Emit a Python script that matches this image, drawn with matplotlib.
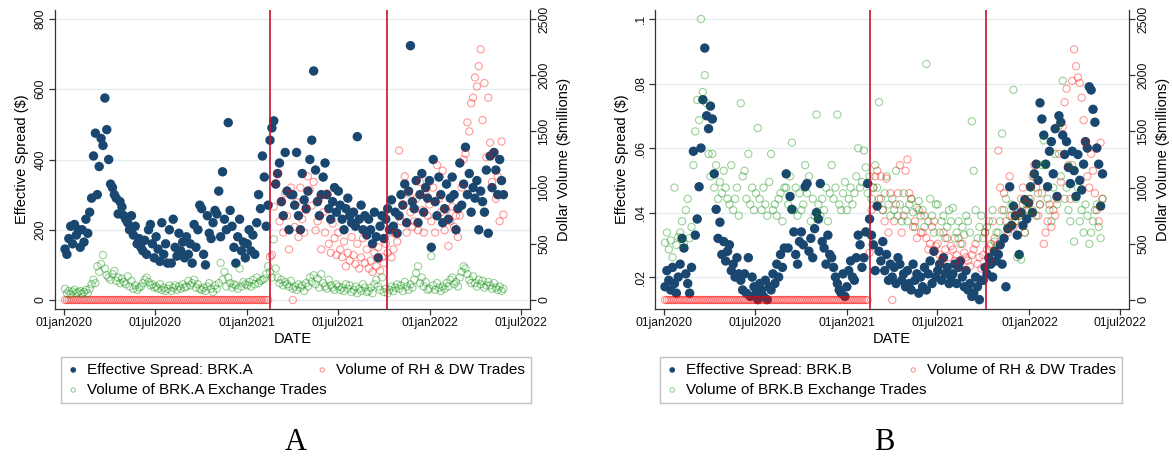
import matplotlib.pyplot as plt
import numpy as np
import pandas as pd

plt.rcParams['font.family'] = ['Liberation Sans', 'DejaVu Sans']

# observation window (values listed 8 per month, Jan 2020 - May 2022)
start, end = '2020-01-03', '2022-05-27'
event_dates = ['2021-02-16', '2021-10-06']
xtick_dates = ['2020-01-01', '2020-07-01', '2021-01-01', '2021-07-01', '2022-01-01', '2022-07-01']
xtick_labels = ['01jan2020', '01jul2020', '01jan2021', '01jul2021', '01jan2022', '01jul2022']

# ---- BRK.A ----
spread_a = [
    145, 130, 175, 210, 160, 215, 185, 200,
    150, 200, 165, 230, 190, 250, 290, 410,
    475, 300, 380, 460, 440, 575, 485, 400,
    330, 320, 300, 290, 245, 280, 265, 240,
    230, 220, 200, 240, 185, 210, 160, 175,
    150, 140, 170, 130, 200, 215, 160, 120,
    180, 145, 110, 220, 130, 160, 105, 200,
    105, 230, 150, 125, 190, 140, 165, 120,
    180, 130, 160, 105, 215, 150, 200, 270,
    260, 130, 100, 240, 190, 175, 220, 255,
    245, 310, 180, 365, 230, 200, 505, 255,
    210, 150, 105, 180, 230, 140, 165, 120,
    160, 200, 140, 185, 130, 220, 300, 260,
    410, 350, 210, 270, 455, 490, 510, 330,
    360, 390, 280, 240, 420, 310, 200, 300,
    300, 270, 420, 240, 200, 360, 285, 260,
    310, 400, 455, 652, 370, 280, 240, 300,
    350, 390, 300, 260, 230, 280, 320, 250,
    310, 270, 230, 200, 260, 290, 240, 220,
    250, 210, 465, 230, 270, 200, 240, 185,
    230, 200, 160, 250, 180, 120, 210, 240,
    175, 230, 260, 200, 285, 210, 250, 190,
    240, 300, 270, 330, 220, 310, 724, 280,
    260, 340, 220, 300, 360, 250, 320, 290,
    340, 150, 400, 280, 240, 350, 300, 220,
    260, 330, 230, 290, 350, 300, 200, 260,
    390, 270, 330, 435, 300, 360, 250, 320,
    290, 340, 200, 310, 280, 250, 370, 190,
    410, 320, 420, 370, 300, 400, 340, 300,
]
rh_a = [
    0, 0, 0, 0, 0, 0, 0, 0,  0, 0, 0, 0, 0, 0, 0, 0,
    0, 0, 0, 0, 0, 0, 0, 0,  0, 0, 0, 0, 0, 0, 0, 0,
    0, 0, 0, 0, 0, 0, 0, 0,  0, 0, 0, 0, 0, 0, 0, 0,
    0, 0, 0, 0, 0, 0, 0, 0,  0, 0, 0, 0, 0, 0, 0, 0,
    0, 0, 0, 0, 0, 0, 0, 0,  0, 0, 0, 0, 0, 0, 0, 0,
    0, 0, 0, 0, 0, 0, 0, 0,  0, 0, 0, 0, 0, 0, 0, 0,
    0, 0, 0, 0, 0, 0, 0, 0,
    0, 0, 0, 0, 385, 400, 830, 1040,
    1127, 700, 880, 600, 950, 750, 450, 1000,
    0, 650, 870, 560, 1000, 720, 600, 800,
    1100, 980, 840, 1050, 620, 700, 900, 450,
    780, 600, 950, 500, 420, 680, 550, 400,
    600, 450, 380, 520, 300, 420, 350, 560,
    400, 320, 500, 280, 380, 550, 330, 450,
    280, 350, 250, 420, 300, 470, 260, 380,
    330, 500, 420, 600, 380, 450, 590, 520,
    1330, 700, 850, 1100, 600, 950, 780, 650,
    700, 900, 620, 1050, 800, 600, 950, 750,
    850, 700, 1000, 600, 1200, 900, 780, 1150,
    620, 800, 480, 700, 830, 650, 750, 560,
    750, 1000, 1250, 1300, 1580, 1500, 1750, 1800,
    1980, 1900, 2080, 2230, 1600, 1930, 1270, 1800,
    1400, 1050, 1300, 900, 1100, 700, 1410, 760,
]
exch_a = [
    100, 60, 80, 50, 75, 90, 60, 70,
    80, 55, 70, 90, 60, 100, 140, 180,
    150, 300, 250, 320, 400, 280, 220, 200,
    180, 230, 260, 170, 200, 150, 190, 160,
    140, 210, 120, 170, 100, 130, 90, 110,
    120, 150, 180, 200, 160, 130, 140, 110,
    120, 100, 140, 90, 110, 80, 100, 130,
    80, 110, 130, 90, 120, 100, 140, 110,
    120, 170, 130, 150, 180, 110, 140, 100,
    90, 110, 80, 120, 150, 100, 70, 130,
    100, 150, 330, 180, 250, 120, 200, 150,
    110, 140, 130, 100, 280, 120, 160, 140,
    130, 160, 120, 180, 140, 200, 150, 170,
    180, 190, 230, 300, 250, 200, 540, 280,
    200, 150, 180, 130, 160, 140, 120, 170,
    100, 120, 90, 140, 110, 130, 80, 150,
    120, 200, 160, 220, 140, 190, 110, 230,
    150, 120, 100, 180, 130, 110, 90, 140,
    120, 90, 110, 80, 140, 100, 130, 70,
    90, 120, 60, 100, 80, 140, 110, 70,
    80, 110, 60, 140, 180, 120, 90, 200,
    70, 100, 60, 90, 120, 80, 110, 140,
    100, 130, 80, 160, 120, 90, 140, 110,
    180, 240, 300, 150, 200, 120, 160, 90,
    100, 390, 130, 90, 150, 110, 80, 120,
    100, 150, 120, 180, 200, 140, 160, 120,
    200, 250, 300, 280, 230, 180, 150, 210,
    150, 120, 180, 140, 170, 110, 130, 160,
    130, 100, 150, 110, 90, 120, 80, 100,
]

# ---- BRK.B ----
spread_b = [
    .017, .022, .019, .016, .023, .018, .015, .020,
    .024, .032, .029, .021, .018, .015, .023, .059,
    .033, .038, .048, .060, .075, .091, .070, .066,
    .073, .069, .052, .041, .032, .037, .027, .031,
    .025, .028, .030, .022, .024, .020, .026, .021,
    .019, .016, .021, .015, .026, .014, .020, .017,
    .015, .013, .018, .016, .014, .019, .013, .017,
    .016, .021, .018, .024, .020, .027, .023, .029,
    .052, .029, .045, .041, .034, .027, .024, .031,
    .034, .030, .048, .049, .028, .032, .026, .035,
    .040, .038, .049, .031, .029, .024, .033, .027,
    .026, .023, .020, .018, .016, .015, .021, .014,
    .017, .022, .025, .020, .019, .026, .033, .030,
    .023, .026, .034, .049, .038, .033, .030, .022,
    .042, .028, .025, .031, .022, .027, .019, .024,
    .020, .023, .018, .026, .024, .019, .021, .017,
    .022, .018, .016, .024, .019, .021, .015, .020,
    .017, .023, .016, .021, .025, .018, .028, .020,
    .022, .024, .019, .026, .021, .023, .018, .020,
    .021, .024, .018, .023, .025, .020, .017, .022,
    .016, .018, .014, .015, .020, .017, .013, .019,
    .019, .023, .021, .026, .024, .020, .028, .025,
    .027, .030, .024, .032, .017, .035, .048, .036,
    .042, .039, .033, .027, .040, .036, .044, .038,
    .043, .048, .040, .052, .055, .050, .074, .069,
    .064, .055, .048, .059, .062, .052, .066, .045,
    .070, .068, .064, .058, .062, .054, .049, .059,
    .053, .045, .058, .050, .047, .055, .062, .060,
    .079, .078, .072, .068, .060, .055, .042, .052,
]
rh_b = [
    0, 0, 0, 0, 0, 0, 0, 0,  0, 0, 0, 0, 0, 0, 0, 0,
    0, 0, 0, 0, 0, 0, 0, 0,  0, 0, 0, 0, 0, 0, 0, 0,
    0, 0, 0, 0, 0, 0, 0, 0,  0, 0, 0, 0, 0, 0, 0, 0,
    0, 0, 0, 0, 0, 0, 0, 0,  0, 0, 0, 0, 0, 0, 0, 0,
    0, 0, 0, 0, 0, 0, 0, 0,  0, 0, 0, 0, 0, 0, 0, 0,
    0, 0, 0, 0, 0, 0, 0, 0,  0, 0, 0, 0, 0, 0, 0, 0,
    0, 0, 0, 0, 0, 0, 0, 0,
    0, 0, 0, 0, 420, 800, 1000, 1100,
    1150, 900, 1100, 800, 700, 1080, 600, 950,
    0, 700, 850, 950, 1200, 600, 750, 1150,
    1250, 950, 900, 650, 700, 550, 800, 600,
    600, 750, 550, 450, 500, 650, 700, 480,
    500, 400, 350, 600, 450, 550, 380, 480,
    450, 350, 400, 550, 300, 500, 420, 380,
    350, 300, 400, 450, 500, 320, 380, 280,
    400, 600, 450, 350, 500, 700, 550, 480,
    1330, 1000, 800, 950, 700, 600, 1100, 750,
    650, 700, 800, 750, 900, 1000, 600, 850,
    800, 900, 1100, 1200, 1000, 750, 850, 950,
    500, 600, 700, 850, 650, 800, 750, 900,
    1300, 1050, 1540, 1760, 1880, 1200, 900, 1950,
    2230, 2080, 1980, 1930, 1800, 1600, 1400, 1100,
    1000, 1300, 1150, 950, 800, 700, 1400, 900,
]
exch_b = [
    510, 600, 450, 530, 380, 1000, 490, 560,
    600, 700, 500, 800, 900, 550, 650, 1200,
    1500, 1780, 1600, 2500, 1850, 2000, 1750, 1300,
    1100, 1300, 1000, 1200, 900, 1050, 950, 1150,
    1000, 900, 850, 1200, 800, 900, 1000, 750,
    1750, 1100, 1150, 900, 1300, 850, 1000, 800,
    950, 1530, 900, 800, 1000, 850, 750, 1050,
    1300, 800, 850, 750, 900, 950, 700, 1000,
    1000, 850, 1100, 1400, 800, 1000, 750, 950,
    800, 850, 1200, 950, 1100, 700, 900, 750,
    1650, 850, 750, 900, 800, 1000, 700, 950,
    1200, 900, 1000, 1650, 850, 800, 950, 1050,
    800, 900, 1000, 850, 950, 1100, 1350, 1000,
    1050, 1330, 1180, 950, 1100, 900, 1000, 1200,
    1000, 1760, 900, 800, 950, 1100, 850, 750,
    900, 800, 1150, 750, 850, 700, 950, 800,
    700, 850, 900, 780, 650, 820, 880, 750,
    800, 650, 2100, 700, 900, 750, 600, 850,
    850, 600, 700, 750, 550, 650, 800, 700,
    820, 550, 600, 700, 500, 650, 580, 750,
    700, 600, 1590, 1150, 800, 550, 650, 750,
    550, 600, 650, 700, 480, 800, 520, 600,
    600, 700, 1480, 800, 900, 650, 750, 850,
    1870, 700, 380, 750, 360, 850, 600, 800,
    900, 1000, 800, 1100, 750, 950, 850, 1200,
    1420, 1200, 900, 800, 700, 1000, 1300, 850,
    1550, 1100, 1950, 900, 1000, 800, 700, 1200,
    520, 900, 1000, 700, 800, 600, 850, 750,
    500, 600, 700, 800, 850, 650, 550, 900,
]

NAVY = '#1a476f'
RED = (1.0, 0.0, 0.0, 0.4)
GREEN = (0.0, 0.55, 0.0, 0.4)
AXCOL = '#333333'

W, H = 1172, 461
fig = plt.figure(figsize=(W / 100, H / 100), dpi=100)


def px_rect(x0, y0, x1, y1):
    return [x0 / W, 1 - y1 / H, (x1 - x0) / W, (y1 - y0) / H]


def panel(rect, spread, rh, exch, ylim, yticks, ylabels, ticker, legend_rect, letter_x, letter):
    ax = fig.add_axes(px_rect(*rect))
    dates = pd.date_range(start, end, periods=len(spread))

    h1 = ax.scatter(dates, spread, s=46, color=NAVY, edgecolors='none', zorder=3,
                    label='Effective Spread: ' + ticker)
    ax.set_ylim(*ylim)
    ax.set_yticks(yticks)
    ax.set_yticklabels(ylabels, rotation=90, va='center')
    ax.grid(axis='y', color='#e6eef0', lw=1.0, zorder=0)
    ax.set_axisbelow(True)

    ax2 = ax.twinx()
    h2 = ax2.scatter(dates, rh, s=27, facecolors='none', edgecolors=RED, linewidths=0.8,
                     label='Volume of RH & DW Trades')
    h3 = ax2.scatter(dates, exch, s=27, facecolors='none', edgecolors=GREEN, linewidths=0.8,
                     label='Volume of ' + ticker + ' Exchange Trades')
    for d in event_dates:
        ax2.axvline(pd.Timestamp(d), color='#c8102e', lw=1.2, zorder=5)
    ax2.set_ylim(-80, 2580)
    ax2.set_yticks([0, 500, 1000, 1500, 2000, 2500])
    ax2.set_yticklabels(['0', '500', '1000', '1500', '2000', '2500'], rotation=90, va='center')

    ax.set_xlim(pd.Timestamp('2019-12-14'), pd.Timestamp('2022-07-19'))
    ax.set_xticks([pd.Timestamp(t) for t in xtick_dates])
    ax.set_xticklabels(xtick_labels)

    for a in (ax, ax2):
        a.spines['top'].set_visible(False)
        for s in a.spines.values():
            s.set_color(AXCOL)
            s.set_linewidth(0.9)
        a.tick_params(direction='out', length=4, width=0.9, color=AXCOL,
                      labelsize=8.7, labelcolor='#111111', pad=2)
    ax.spines['right'].set_visible(False)
    ax2.spines['left'].set_visible(False)
    ax2.spines['bottom'].set_visible(False)

    ax.set_xlabel('DATE', fontsize=10.5, labelpad=2)
    ax.set_ylabel('Effective Spread ($)', fontsize=10.5, labelpad=4)
    ax2.set_ylabel('Dollar Volume ($millions)', fontsize=10.5, labelpad=5)

    ax.legend([h1, h3, h2], [h1.get_label(), h3.get_label(), h2.get_label()],
              ncol=2, loc='center', mode='expand',
              bbox_to_anchor=px_rect(*legend_rect), bbox_transform=fig.transFigure,
              fontsize=11, frameon=True, fancybox=False, edgecolor='#c0c0c0',
              framealpha=1, markerscale=0.6, handlelength=0.8, handletextpad=0.5,
              labelspacing=0.4, borderpad=0.4, borderaxespad=0)

    fig.text(letter_x / W, 1 - 442 / H, letter, family='Liberation Serif',
             fontsize=22, ha='center', va='center')


panel((55, 10, 530, 309), spread_a, rh_a, exch_a,
      (-25.6, 825.6), [0, 200, 400, 600, 800], ['0', '200', '400', '600', '800'],
      'BRK.A', (61, 356, 531, 404), 296, 'A')

panel((655, 10, 1129, 309), spread_b, rh_b, exch_b,
      (0.0101, 0.1028), [.02, .04, .06, .08, .1], ['.02', '.04', '.06', '.08', '.1'],
      'BRK.B', (660, 356, 1122, 404), 884, 'B')

fig.savefig('out.png', dpi=100)
